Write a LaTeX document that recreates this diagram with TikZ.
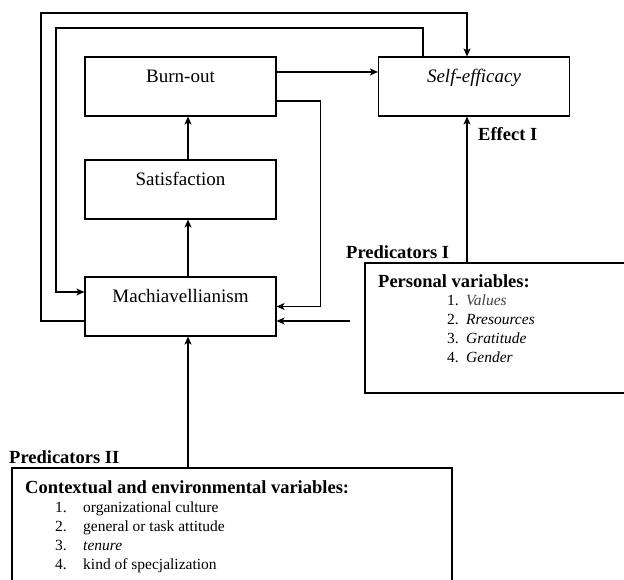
\documentclass[tikz,border=0pt]{standalone}
\usepackage{fontspec}
\setmainfont{Liberation Serif}
\usetikzlibrary{arrows.meta}

\tikzset{
	box/.style={draw=black, line width=1.1pt, inner sep=0pt, minimum width=191pt, text height=26pt, text depth=33pt, font=\fontsize{19}{22}\selectfont},
	link/.style={line width=1.3pt, -{Stealth[length=8pt,width=7pt,inset=2pt]}},
	head/.style={anchor=base west, inner sep=0pt, font=\fontsize{18.5}{22}\selectfont\bfseries},
	item/.style={anchor=base west, inner sep=0pt, font=\fontsize{15.5}{18}\selectfont}
}

\begin{document}
\begin{tikzpicture}[x=1pt, y=1pt]
	\useasboundingbox (0,0) rectangle (624,579);
	\clip (0,0) rectangle (624,579);

	\node[box] (burn) at (180.5, 492.5)   {Burn-out};
	\node[box] (self) at (474, 492.5)     {\textit{Self-efficacy}};
	\node[box] (sat)  at (180.5, 389.5)   {Satisfaction};
	\node[box] (mach) at (180.5, 272.5)   {Machiavellianism};

	\node[draw=black, line width=1.1pt, minimum width=275pt, minimum height=130pt] (pers) at (502.5, 251) {};
	\node[draw=black, line width=1.1pt, minimum width=440pt, minimum height=132pt] (cont) at (232, 45) {};

	\node[head] (effect) at (478, 438)   {Effect I};
	\node[head] (predI)  at (346, 320)   {Predicators I};
	\node[head] (predII) at (9, 116)     {Predicators II};

	\node[head] (perstitle) at (378, 291) {Personal variables:};
	\node[item] (p1) at (447, 273) {\makebox[19pt][l]{1.}\textit{\color{black!75}Values}};
	\node[item] (p2) at (447, 254) {\makebox[19pt][l]{2.}\textit{Rresources}};
	\node[item] (p3) at (447, 235) {\makebox[19pt][l]{3.}\textit{Gratitude}};
	\node[item] (p4) at (447, 216) {\makebox[19pt][l]{4.}\textit{Gender}};

	\node[head] (conttitle) at (25, 86) {Contextual and environmental variables:};
	\node[item] (c1) at (55, 67) {\makebox[28pt][l]{1.}organizational culture};
	\node[item] (c2) at (55, 48) {\makebox[28pt][l]{2.}general or task attitude};
	\node[item] (c3) at (55, 29) {\makebox[28pt][l]{3.}\textit{tenure}};
	\node[item] (c4) at (55, 10) {\makebox[28pt][l]{4.}kind of specjalization};

	\coordinate (outer) at (41, 566);
	\coordinate (inner) at (56, 551);
	\coordinate (persin) at (350, 258);

	% feedback loops
	\draw[link] ([yshift=-14.5pt]mach.west) -| (outer) -| ([xshift=-7pt]self.north);
	\draw[link] ([xshift=-51pt]self.north) |- (inner) |- ([yshift=14.5pt]mach.west);

	\draw[link] ([yshift=14.5pt]burn.east) -- ([yshift=14.5pt]self.west);
	\draw[link] ([yshift=-14.5pt]burn.east) -- ++(44,0) |- (mach.east);
	\draw[link] (persin) -- ([yshift=-14.5pt]mach.east);

	\draw[link] ([xshift=7.5pt]mach.north) -- ([xshift=7.5pt]sat.south);
	\draw[link] ([xshift=7.5pt]sat.north) -- ([xshift=7.5pt]burn.south);

	\draw[link] ([xshift=-35.5pt]pers.north) -- ([xshift=-7pt]self.south);
	\draw[link] ([xshift=-44pt]cont.north) -- ([xshift=7.5pt]mach.south);
\end{tikzpicture}
\end{document}
